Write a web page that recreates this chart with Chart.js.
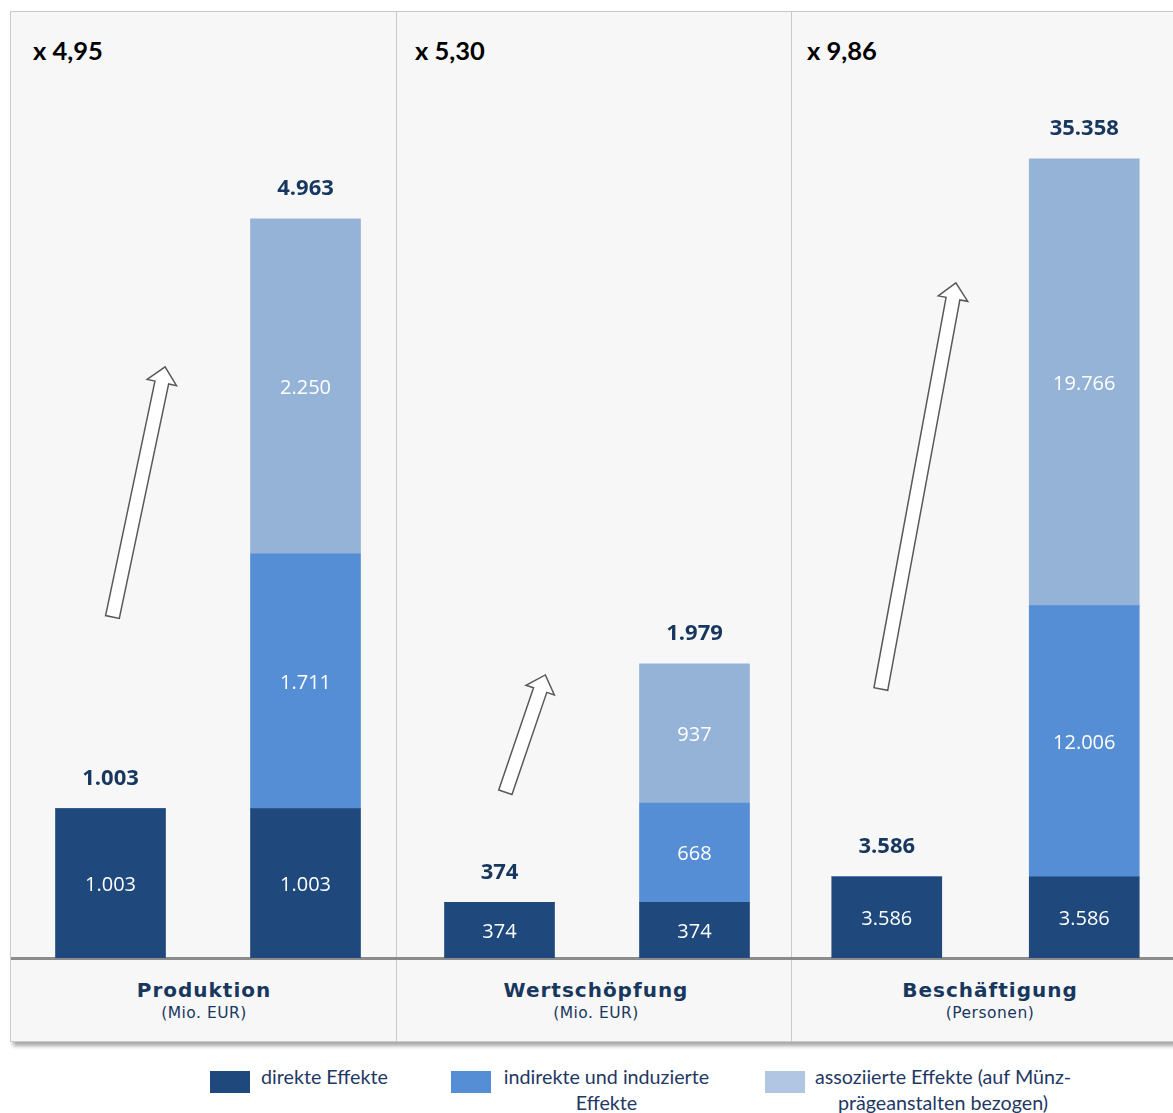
<!DOCTYPE html>
<html lang="de">
<head>
<meta charset="UTF-8">
<title>Effekte</title>
<script src="https://cdn.jsdelivr.net/npm/chart.js"></script>
<style>
    body {
        margin: 0;
        background: #fff;
        width: 1173px;
        height: 1113px;
        overflow: hidden;
        position: relative;
        font-family: "DejaVu Sans", sans-serif;
    }

    #frame {
        position: absolute;
        left: 10px;
        top: 11px;
        width: 1200px;
        height: 1029px;
        background: #f7f7f7;
        border: 1px solid #c9c9c9;
        box-shadow: 3px 4px 4px rgba(0, 0, 0, 0.35);
    }

    .sep {
        position: absolute;
        top: 0;
        bottom: 0;
        width: 1px;
        background: #c9c9c9;
    }

    #baseline {
        position: absolute;
        left: 0;
        right: 0;
        top: 945px;
        height: 3px;
        background: #8c8c8c;
    }

    .factor {
        position: absolute;
        top: 23px;
        font-family: Lato, "Open Sans", sans-serif;
        font-weight: bold;
        font-size: 25.5px;
        color: #000;
    }

    .cat {
        position: absolute;
        top: 966px;
        width: 386px;
        text-align: center;
        color: #17375e;
    }

    .cat b {
        display: block;
        font-size: 20px;
        letter-spacing: 1px;
    }

    .cat span {
        display: block;
        font-size: 15.5px;
        letter-spacing: 0.5px;
        margin-top: 2px;
    }

    canvas {
        position: absolute;
    }

    .legend {
        position: absolute;
        top: 1064px;
        font-family: Lato, "Open Sans", sans-serif;
        font-size: 19.7px;
        color: #1f3864;
    }

    .legend i {
        position: absolute;
        top: 7px;
        width: 40px;
        height: 22px;
    }

    .legend div {
        position: absolute;
        text-align: center;
        line-height: 26px;
        white-space: nowrap;
    }
</style>
</head>
<body>
<div id="frame">
    <div class="sep" style="left:385px"></div>
    <div class="sep" style="left:780px"></div>
    <div id="baseline"></div>
    <div class="factor" style="left:22px">x 4,95</div>
    <div class="factor" style="left:404px">x 5,30</div>
    <div class="factor" style="left:796px">x 9,86</div>
    <div class="cat" style="left:0px"><b>Produktion</b><span>(Mio. EUR)</span></div>
    <div class="cat" style="left:392px"><b>Wertschöpfung</b><span>(Mio. EUR)</span></div>
    <div class="cat" style="left:786px"><b>Beschäftigung</b><span>(Personen)</span></div>
</div>

<canvas id="c0"></canvas>
<canvas id="c1"></canvas>
<canvas id="c2"></canvas>

<div class="legend">
    <i style="left:210px;background:#1f497d"></i>
    <div style="left:261px">direkte Effekte</div>
    <i style="left:451px;background:#558ed5"></i>
    <div style="left:503px;width:207px">indirekte und induzierte<br>Effekte</div>
    <i style="left:765px;background:#b0c6e3"></i>
    <div style="left:813px;width:260px">assoziierte Effekte (auf Münz-<br>prägeanstalten bezogen)</div>
</div>

<script>
    // Daten je Panel: [Ausgangswert, Gesamtwirkung]
    const kategorien = ['Direkt', 'Gesamt'];
    const direkteEffekte = [[1003, 1003], [374, 374], [3586, 3586]];
    const indirekteEffekte = [[0, 1711], [0, 668], [0, 12006]];
    const assoziierteEffekte = [[0, 2250], [0, 937], [0, 19766]];
    const summen = [[1003, 4963], [374, 1979], [3586, 35358]];
    const yMax = [6360, 6370, 41900];

    // Pfeile: [x-Index, y-Wert] von Ende zu Spitze
    const pfeile = [
        [[0.01, 2290], [0.28, 3970]],
        [[0.03, 1115], [0.235, 1904]],
        [[-0.03, 11900], [0.35, 29870]]
    ];

    const lage = [
        { left: 13, width: 390 },
        { left: 402, width: 390 },
        { left: 788, width: 395 }
    ];

    const fmt = v => v.toString().replace(/\B(?=(\d{3})+(?!\d))/g, '.');

    const beschriftung = {
        id: 'beschriftung',
        afterDatasetsDraw(chart) {
            const ctx = chart.ctx;
            const i = chart.options.plugins.beschriftung.panel;
            ctx.save();
            ctx.textAlign = 'center';
            ctx.textBaseline = 'middle';
            // Werte in den Segmenten
            ctx.font = '20px "Open Sans", sans-serif';
            ctx.fillStyle = '#ffffff';
            chart.data.datasets.forEach((ds, d) => {
                chart.getDatasetMeta(d).data.forEach((bar, k) => {
                    if (!ds.data[k]) return;
                    ctx.fillText(fmt(ds.data[k]), bar.x, (bar.y + bar.base) / 2 + 2);
                });
            });
            // Summen über den Säulen
            ctx.font = 'bold 22px "Open Sans", sans-serif';
            ctx.fillStyle = '#17375e';
            const xs = chart.scales.x, ys = chart.scales.y;
            summen[i].forEach((s, k) => {
                ctx.fillText(fmt(s), xs.getPixelForValue(k), ys.getPixelForValue(s) - 30);
            });
            // Pfeil
            const [a, b] = pfeile[i];
            const x0 = xs.getPixelForValue(0);
            const step = xs.getPixelForValue(1) - x0;
            const p0 = [x0 + a[0] * step, ys.getPixelForValue(a[1])];
            const p1 = [x0 + b[0] * step, ys.getPixelForValue(b[1])];
            const dx = p1[0] - p0[0], dy = p1[1] - p0[1];
            const len = Math.hypot(dx, dy);
            const ux = dx / len, uy = dy / len, nx = -uy, ny = ux;
            const sw = 7, hw = 15, hl = 16;
            const hx = p1[0] - ux * hl, hy = p1[1] - uy * hl;
            ctx.beginPath();
            ctx.moveTo(p0[0] + nx * sw, p0[1] + ny * sw);
            ctx.lineTo(hx + nx * sw, hy + ny * sw);
            ctx.lineTo(hx + nx * hw, hy + ny * hw);
            ctx.lineTo(p1[0], p1[1]);
            ctx.lineTo(hx - nx * hw, hy - ny * hw);
            ctx.lineTo(hx - nx * sw, hy - ny * sw);
            ctx.lineTo(p0[0] - nx * sw, p0[1] - ny * sw);
            ctx.closePath();
            ctx.fillStyle = '#ffffff';
            ctx.fill();
            ctx.lineWidth = 1.5;
            ctx.strokeStyle = '#595959';
            ctx.stroke();
            ctx.restore();
        }
    };

    for (let i = 0; i < 3; i++) {
        const cv = document.getElementById('c' + i);
        cv.style.left = lage[i].left + 'px';
        cv.style.top = '11px';
        cv.style.width = lage[i].width + 'px';
        cv.style.height = '947px';
        new Chart(cv, {
            type: 'bar',
            data: {
                labels: kategorien,
                datasets: [
                    { label: 'direkte Effekte', data: direkteEffekte[i], backgroundColor: '#1f497d' },
                    { label: 'indirekte und induzierte Effekte', data: indirekteEffekte[i], backgroundColor: '#558ed5' },
                    { label: 'assoziierte Effekte', data: assoziierteEffekte[i], backgroundColor: '#95b3d7' }
                ]
            },
            options: {
                responsive: false,
                animation: false,
                layout: { padding: 0 },
                datasets: { bar: { barThickness: 110 } },
                scales: {
                    x: { stacked: true, display: false },
                    y: { stacked: true, display: false, min: 0, max: yMax[i] }
                },
                plugins: {
                    legend: { display: false },
                    tooltip: { enabled: false },
                    beschriftung: { panel: i }
                }
            },
            plugins: [beschriftung]
        });
    }
</script>
</body>
</html>
